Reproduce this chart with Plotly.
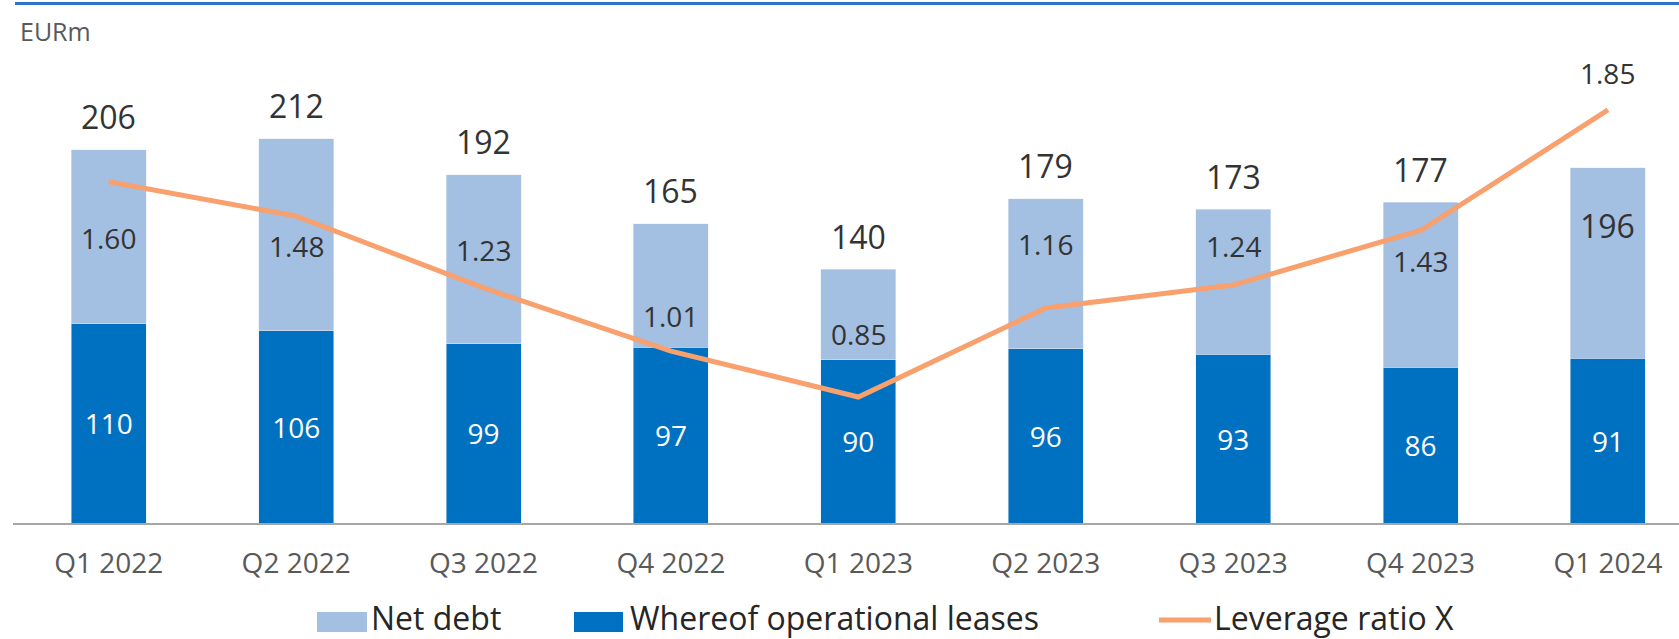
import plotly.graph_objects as go

quarters = ["Q1 2022", "Q2 2022", "Q3 2022", "Q4 2022", "Q1 2023",
            "Q2 2023", "Q3 2023", "Q4 2023", "Q1 2024"]
net_debt = [206, 212, 192, 165, 140, 179, 173, 177, 196]
op_leases = [110, 106, 99, 97, 90, 96, 93, 86, 91]
leverage = [1.60, 1.48, 1.23, 1.01, 0.85, 1.16, 1.24, 1.43, 1.85]

# label placement offsets in px (style, not data)
total_shift = [33, 33, 33, 33, 33, 33, 33, 33, -58]
ratio_shift = [-56, -30, 38, 35, 63, 64, 39, -30, 37]

FONT = "Open Sans"
LIGHT = "#A3BFE2"
DARK = "#0070C0"
ORANGE = "#F8A06E"

W, H = 1679, 639
ML, MR, MT, MB = 13, 0, 60, 116
PW, PH = W - ML - MR, H - MT - MB


def px_x(px):
    return (px - ML) / PW


def px_y(py):
    return (H - MB - py) / PH


remaining = [n - l for n, l in zip(net_debt, op_leases)]

fig = go.Figure()
fig.add_bar(
    x=quarters, y=op_leases, name="Whereof operational leases",
    marker_color=DARK, showlegend=False,
    text=[str(v) for v in op_leases], textposition="inside",
    insidetextanchor="middle", textangle=0, constraintext="none",
    insidetextfont=dict(color="white", size=28, family=FONT),
    hoverinfo="skip",
)
fig.add_bar(
    x=quarters, y=remaining, name="Net debt",
    marker_color=LIGHT, showlegend=False, hoverinfo="skip",
)
fig.add_scatter(
    x=quarters, y=leverage, name="Leverage ratio X", mode="lines",
    line=dict(color=ORANGE, width=5), yaxis="y2", showlegend=False,
    hoverinfo="skip",
)

annotations = []
for q, tot, s in zip(quarters, net_debt, total_shift):
    annotations.append(dict(
        x=q, y=tot, xref="x", yref="y", text=str(tot), showarrow=False,
        yanchor="middle", yshift=s,
        font=dict(size=32, color="#333333", family=FONT),
    ))
for q, r, s in zip(quarters, leverage, ratio_shift):
    annotations.append(dict(
        x=q, y=r, xref="x", yref="y2", text=f"{r:.2f}", showarrow=False,
        yanchor="middle", yshift=s,
        font=dict(size=28, color="#333333", family=FONT),
    ))
annotations.append(dict(
    x=px_x(18), y=px_y(31), xref="paper", yref="paper", text="EURm",
    showarrow=False, xanchor="left", yanchor="middle",
    font=dict(size=25, color="#595959", family=FONT),
))

# manual legend
legend_items = [("Net debt", 371), ("Whereof operational leases", 630),
                ("Leverage ratio X", 1214)]
for name, tx in legend_items:
    annotations.append(dict(
        x=px_x(tx - 2), y=px_y(617), xref="paper", yref="paper", text=name,
        showarrow=False, xanchor="left", yanchor="middle",
        font=dict(size=32, color="#262626", family=FONT),
    ))

shapes = [
    dict(type="line", xref="paper", yref="paper", x0=px_x(15), x1=1,
         y0=px_y(3.5), y1=px_y(3.5), line=dict(color="#2E75C5", width=3)),
    dict(type="rect", xref="paper", yref="paper", x0=px_x(317), x1=px_x(367),
         y0=px_y(632), y1=px_y(612), fillcolor=LIGHT, line=dict(width=0)),
    dict(type="rect", xref="paper", yref="paper", x0=px_x(574), x1=px_x(623),
         y0=px_y(632), y1=px_y(612), fillcolor=DARK, line=dict(width=0)),
    dict(type="line", xref="paper", yref="paper", x0=px_x(1159), x1=px_x(1211),
         y0=px_y(620), y1=px_y(620), line=dict(color=ORANGE, width=5)),
]

fig.update_layout(
    width=W, height=H,
    margin=dict(l=ML, r=MR, t=MT, b=MB),
    paper_bgcolor="white", plot_bgcolor="white",
    barmode="stack", bargap=0.6,
    font=dict(family=FONT),
    xaxis=dict(
        type="category", range=[-0.511, 8.379],
        showline=True, linecolor="#A6A6A6", linewidth=2,
        ticks="", showgrid=False, zeroline=False,
        tickfont=dict(size=28, color="#595959", family=FONT),
        ticklabelstandoff=14,
    ),
    yaxis=dict(range=[0, 255.4], visible=False),
    yaxis2=dict(range=[0.411, 2.024], overlaying="y", visible=False),
    showlegend=False,
    annotations=annotations,
    shapes=shapes,
)

fig.write_html(
    "out.html",
    config={"displayModeBar": False},
    post_script="document.body.style.margin='0';document.body.style.overflow='hidden';",
)
